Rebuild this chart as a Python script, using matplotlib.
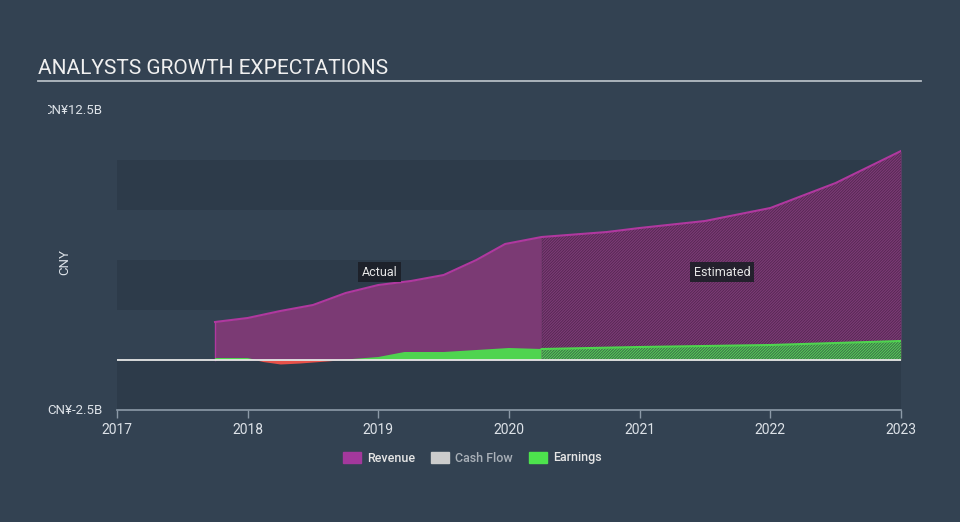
import numpy as np
import matplotlib.pyplot as plt
from matplotlib.patches import Patch
from matplotlib.transforms import Bbox, TransformedBbox

plt.rcParams['font.family'] = ['Roboto', 'DejaVu Sans']
plt.rcParams['hatch.linewidth'] = 0.6

# revenue, CNY billions (decimal years)
rev_x = [2017.75, 2018.0, 2018.25, 2018.5, 2018.75, 2019.0, 2019.25, 2019.5, 2019.75, 2019.97, 2020.25]
rev_y = [1.9, 2.1, 2.45, 2.75, 3.35, 3.75, 3.95, 4.25, 5.0, 5.8, 6.15]
rev_est_x = [2020.25, 2020.75, 2021.0, 2021.5, 2022.0, 2022.5, 2023.0]
rev_est_y = [6.15, 6.4, 6.6, 6.95, 7.6, 8.85, 10.45]

# earnings, CNY billions
earn_x = [2017.75, 2018.0, 2018.12, 2018.25, 2018.4, 2018.6, 2018.8, 2019.0, 2019.2, 2019.5, 2019.75, 2020.0, 2020.25]
earn_y = [0.1, 0.1, -0.08, -0.2, -0.15, -0.05, 0.05, 0.15, 0.4, 0.4, 0.5, 0.6, 0.55]
earn_est_x = [2020.25, 2021.0, 2022.0, 2023.0]
earn_est_y = [0.55, 0.65, 0.75, 0.95]

bg = '#334252'
dark = '#2d3b4a'
purple_fill = '#7b3a74'
purple_line = '#b0389f'
green = '#4fd44f'

fig = plt.figure(figsize=(9.6, 5.22), dpi=100, facecolor=bg)
ax = fig.add_axes([117/960, 112/522, 784/960, 300/522])
ax.set_facecolor(bg)

for lo in [-2.5, 2.5, 7.5]:
    ax.axhspan(lo, lo + 2.5, color=dark, lw=0, zorder=0)

rx = np.array(rev_x); ry = np.array(rev_y)
ex = np.array(rev_est_x); ey = np.array(rev_est_y)
ax.fill_between(rx, 0, ry, color=purple_fill, lw=0, zorder=2)
ax.fill_between(ex, 0, ey, color='#7d3b77', lw=0, zorder=2)
ax.fill_between(ex, 0, ey, facecolor='none', edgecolor='#532750', hatch='/' * 12, lw=0, zorder=3)
ax.plot(np.concatenate([rx, ex[1:]]), np.concatenate([ry, ey[1:]]), color=purple_line, lw=1.5, zorder=4)
ax.plot([rx[0], rx[0]], [0, ry[0]], color=purple_line, lw=1, zorder=4)

gx = np.array(earn_x); gy = np.array(earn_y)
gex = np.array(earn_est_x); gey = np.array(earn_est_y)
ax.fill_between(gx, 0, gy, where=gy >= 0, interpolate=True, color=green, lw=0, zorder=5)
ax.fill_between(gx, 0, gy, where=gy <= 0, interpolate=True, color='#e8524a', lw=0, zorder=5)
ax.fill_between(gex, 0, gey, color='#3c7448', lw=0, zorder=5)
ax.fill_between(gex, 0, gey, facecolor='none', edgecolor='#5bd85b', hatch='/' * 12, lw=0, zorder=6)
ax.plot(gex, gey, color=green, lw=1.5, zorder=7)

ax.axhline(0, color='#e6e6e6', lw=1.3, zorder=8)

ax.set_xlim(2017, 2023)
ax.set_ylim(-2.5, 12.5)
for s in ['top', 'right', 'left']:
    ax.spines[s].set_visible(False)
ax.spines['bottom'].set_color('#8c9aa8')
ax.spines['bottom'].set_linewidth(1.2)
ax.set_xticks(range(2017, 2024))
ax.tick_params(axis='x', colors='#8c9aa8', length=6, width=1, labelcolor='#dde2e8', labelsize=10, pad=3)
ax.set_yticks([])

clip = TransformedBbox(Bbox([[48/960, 0], [1, 1]]), fig.transFigure)
for val, lab in [(12.5, 'CN¥12.5B'), (-2.5, 'CN¥-2.5B')]:
    t = ax.text(-0.019, val, lab, transform=ax.get_yaxis_transform(), ha='right', va='center',
                color='#dde2e8', fontsize=9.5)
    t.set_clip_on(True)
    t.set_clip_box(clip)
fig.text(65/960, 1 - 262/522, 'CNY', rotation=90, ha='center', va='center', color='#dde2e8', fontsize=9.5)

box = dict(boxstyle='square,pad=0.3', facecolor='#1c1f27', edgecolor='none', alpha=0.9)
ax.text(2019.01, 4.4, 'Actual', ha='center', va='center', color='#e6e6e6', fontsize=9, bbox=box, zorder=10)
ax.text(2021.63, 4.4, 'Estimated', ha='center', va='center', color='#e6e6e6', fontsize=9, bbox=box, zorder=10)

fig.text(38/960, 1 - 68/522, 'ANALYSTS GROWTH EXPECTATIONS', ha='left', va='center', color='#f0f0f0', fontsize=15)
fig.add_artist(plt.Line2D([38/960, 921/960], [1 - 81/522, 1 - 81/522], color='#b4bcc4', lw=1.3))

handles = [Patch(color='#a3389c'), Patch(color='#cccccc'), Patch(color='#4de34d')]
leg = fig.legend(handles, ['Revenue', 'Cash Flow', 'Earnings'], loc='center', bbox_to_anchor=(0.492, 1 - 458/522),
                 ncol=3, frameon=False, handlelength=1.4, handleheight=1.0, columnspacing=1.3,
                 handletextpad=0.5, prop={'weight': 'medium', 'size': 9})
for t, c in zip(leg.get_texts(), ['#e6e6e6', '#a9b0b8', '#e6e6e6']):
    t.set_color(c)

fig.savefig('out.png', dpi=100, facecolor=bg)
